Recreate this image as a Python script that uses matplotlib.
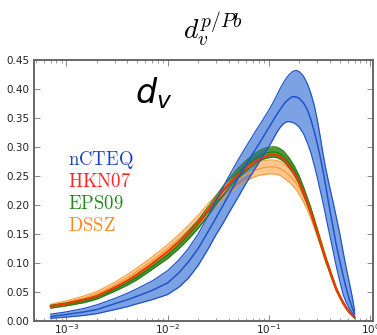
import matplotlib
matplotlib.use("Agg")
import matplotlib.pyplot as plt
import numpy as np

plt.rcParams['mathtext.fontset'] = 'cm'

x = [7e-4, 1e-3, 1.5e-3, 2e-3, 3e-3, 4e-3, 5e-3, 7e-3, 1e-2, 1.3e-2,
     1.6e-2, 2e-2, 2.5e-2, 3e-2, 3.5e-2, 4e-2, 5e-2, 6e-2, 7e-2, 8e-2,
     9e-2, 0.1, 0.11, 0.12, 0.13, 0.14, 0.15, 0.16, 0.17, 0.18,
     0.19, 0.2, 0.22, 0.24, 0.26, 0.28, 0.3, 0.32, 0.34, 0.36,
     0.38, 0.4, 0.43, 0.46, 0.5, 0.54, 0.58, 0.62, 0.66, 0.7]

ncteq_c = [0.007, 0.0105, 0.015, 0.019, 0.029, 0.036, 0.042, 0.052, 0.065, 0.083,
           0.101, 0.124, 0.153, 0.177, 0.198, 0.216, 0.247, 0.27, 0.289, 0.305,
           0.32, 0.333, 0.345, 0.356, 0.365, 0.373, 0.379, 0.383, 0.386, 0.386,
           0.385, 0.383, 0.375, 0.363, 0.346, 0.326, 0.305, 0.283, 0.26, 0.236,
           0.212, 0.19, 0.16, 0.132, 0.103, 0.077, 0.055, 0.037, 0.023, 0.012]
ncteq_u = [0.011, 0.015, 0.021, 0.027, 0.038, 0.047, 0.055, 0.068, 0.086, 0.105,
           0.124, 0.149, 0.18, 0.207, 0.229, 0.248, 0.278, 0.301, 0.32, 0.336,
           0.35, 0.363, 0.376, 0.389, 0.401, 0.411, 0.419, 0.425, 0.429, 0.431,
           0.431, 0.429, 0.421, 0.408, 0.391, 0.371, 0.346, 0.318, 0.29, 0.266,
           0.246, 0.228, 0.204, 0.18, 0.15, 0.118, 0.09, 0.066, 0.043, 0.017]
ncteq_l = [0.004, 0.006, 0.009, 0.012, 0.019, 0.024, 0.029, 0.036, 0.045, 0.058,
           0.073, 0.095, 0.123, 0.148, 0.167, 0.185, 0.214, 0.238, 0.257, 0.273,
           0.288, 0.3, 0.313, 0.325, 0.334, 0.34, 0.343, 0.343, 0.342, 0.34,
           0.337, 0.333, 0.322, 0.306, 0.289, 0.268, 0.247, 0.225, 0.205, 0.184,
           0.164, 0.146, 0.12, 0.095, 0.068, 0.045, 0.031, 0.021, 0.014, 0.008]

hkn07 = [0.025, 0.029, 0.036, 0.042, 0.057, 0.069, 0.08, 0.098, 0.119, 0.136,
         0.151, 0.169, 0.19, 0.208, 0.223, 0.235, 0.252, 0.264, 0.272, 0.278,
         0.282, 0.285, 0.286, 0.285, 0.282, 0.278, 0.272, 0.266, 0.259, 0.252,
         0.245, 0.237, 0.22, 0.203, 0.186, 0.168, 0.152, 0.136, 0.122, 0.108,
         0.096, 0.085, 0.069, 0.055, 0.042, 0.031, 0.022, 0.015, 0.01, 0.006]

eps09_c = [0.024, 0.028, 0.034, 0.040, 0.054, 0.065, 0.075, 0.093, 0.113, 0.131,
           0.147, 0.166, 0.188, 0.207, 0.223, 0.236, 0.255, 0.268, 0.277, 0.284,
           0.288, 0.29, 0.291, 0.29, 0.287, 0.283, 0.277, 0.271, 0.264, 0.257,
           0.249, 0.241, 0.223, 0.205, 0.188, 0.17, 0.153, 0.137, 0.122, 0.108,
           0.096, 0.085, 0.069, 0.055, 0.042, 0.031, 0.022, 0.015, 0.01, 0.005]
eps09_e = [0.0025, 0.0025, 0.003, 0.003, 0.0035, 0.004, 0.0045, 0.005, 0.006, 0.0065,
           0.007, 0.007, 0.0075, 0.0075, 0.008, 0.008, 0.0085, 0.0085, 0.009, 0.009,
           0.009, 0.009, 0.009, 0.009, 0.009, 0.009, 0.0085, 0.0085, 0.008, 0.008,
           0.0075, 0.0075, 0.007, 0.0065, 0.006, 0.0055, 0.005, 0.0045, 0.004, 0.004,
           0.0035, 0.003, 0.003, 0.0025, 0.002, 0.002, 0.0015, 0.0015, 0.001, 0.001]

dssz_c = [0.025, 0.031, 0.039, 0.046, 0.061, 0.074, 0.085, 0.103, 0.124, 0.141,
          0.156, 0.173, 0.192, 0.207, 0.219, 0.229, 0.243, 0.252, 0.258, 0.262,
          0.264, 0.265, 0.265, 0.264, 0.262, 0.258, 0.254, 0.25, 0.245, 0.24,
          0.234, 0.228, 0.214, 0.199, 0.184, 0.168, 0.152, 0.137, 0.122, 0.108,
          0.096, 0.085, 0.069, 0.055, 0.041, 0.03, 0.021, 0.014, 0.009, 0.004]
dssz_e = [0.003, 0.003, 0.0035, 0.004, 0.005, 0.0055, 0.006, 0.0065, 0.007, 0.0075,
          0.008, 0.0085, 0.009, 0.009, 0.0095, 0.0095, 0.01, 0.0105, 0.011, 0.0115,
          0.012, 0.012, 0.012, 0.012, 0.012, 0.012, 0.012, 0.0115, 0.0115, 0.011,
          0.011, 0.011, 0.01, 0.009, 0.0085, 0.008, 0.007, 0.0065, 0.006, 0.0055,
          0.005, 0.005, 0.004, 0.0035, 0.003, 0.0025, 0.002, 0.0015, 0.001, 0.001]

labels = ['nCTEQ', 'HKN07', 'EPS09', 'DSSZ']
label_colors = ['#2244bb', '#ff2222', '#228822', '#ff8822']

xa = np.array(x)
fig = plt.figure(figsize=(3.77, 3.35), dpi=100)
ax = fig.add_axes([0.090, 0.043, 0.899, 0.779])

# DSSZ
dc = np.array(dssz_c); de = np.array(dssz_e)
ax.fill_between(xa, dc - de, dc + de, color='#ff9a33', alpha=0.55, lw=0)
ax.plot(xa, dc + de, color='#ff9a33', lw=0.8)
ax.plot(xa, dc - de, color='#ff9a33', lw=0.8)
ax.plot(xa, dc, color='#ff9a33', lw=0.9)

# EPS09
ec = np.array(eps09_c); ee = np.array(eps09_e)
ax.fill_between(xa, ec - ee, ec + ee, color='#2e8a12', alpha=0.85, lw=0)
ax.plot(xa, ec + ee, color='#2a7a16', lw=0.8)
ax.plot(xa, ec - ee, color='#2a7a16', lw=0.8)
ax.plot(xa, ec, color='#2a7a16', lw=0.9)

# HKN07
ax.plot(xa, hkn07, color='#ff3300', lw=1.4)

# nCTEQ
ax.fill_between(xa, ncteq_l, ncteq_u, color='#2060d0', alpha=0.58, lw=0)
ax.plot(xa, ncteq_u, color='#1f55cc', lw=0.9)
ax.plot(xa, ncteq_l, color='#1f55cc', lw=0.9)
ax.plot(xa, ncteq_c, color='#1f55cc', lw=1.1)

ax.set_xscale('log')
ax.set_xlim(4.8e-4, 1.06)
ax.set_ylim(0, 0.45)
yt = np.arange(0, 0.451, 0.05)
ax.set_yticks(yt)
ax.set_yticklabels(['%.2f' % v for v in yt])
ax.tick_params(axis='both', which='both', direction='in', top=True, right=True,
               labelsize=7.5, colors='#888888', labelcolor='#222222')
ax.tick_params(which='major', length=4, width=0.7)
ax.tick_params(which='minor', length=2, width=0.6)
ax.tick_params(axis='x', pad=1.5)
for s in ax.spines.values():
    s.set_color('#666666')
    s.set_linewidth(1.4)

ax.text(0.352, 0.872, r'$d_v$', transform=ax.transAxes, fontsize=24,
        math_fontfamily='dejavusans', ha='center', va='center', color='black')

ys = [0.615, 0.533, 0.450, 0.366]
for lab, col, yy in zip(labels, label_colors, ys):
    ax.text(0.10, yy, r'$\mathrm{%s}$' % lab, transform=ax.transAxes, fontsize=13.5,
            color=col, ha='left', va='center')

fig.text(213 / 377, 1 - 30 / 335, r'$d_v^{p/Pb}$', fontsize=20, ha='center', va='center')

fig.savefig('out.png', dpi=100)
